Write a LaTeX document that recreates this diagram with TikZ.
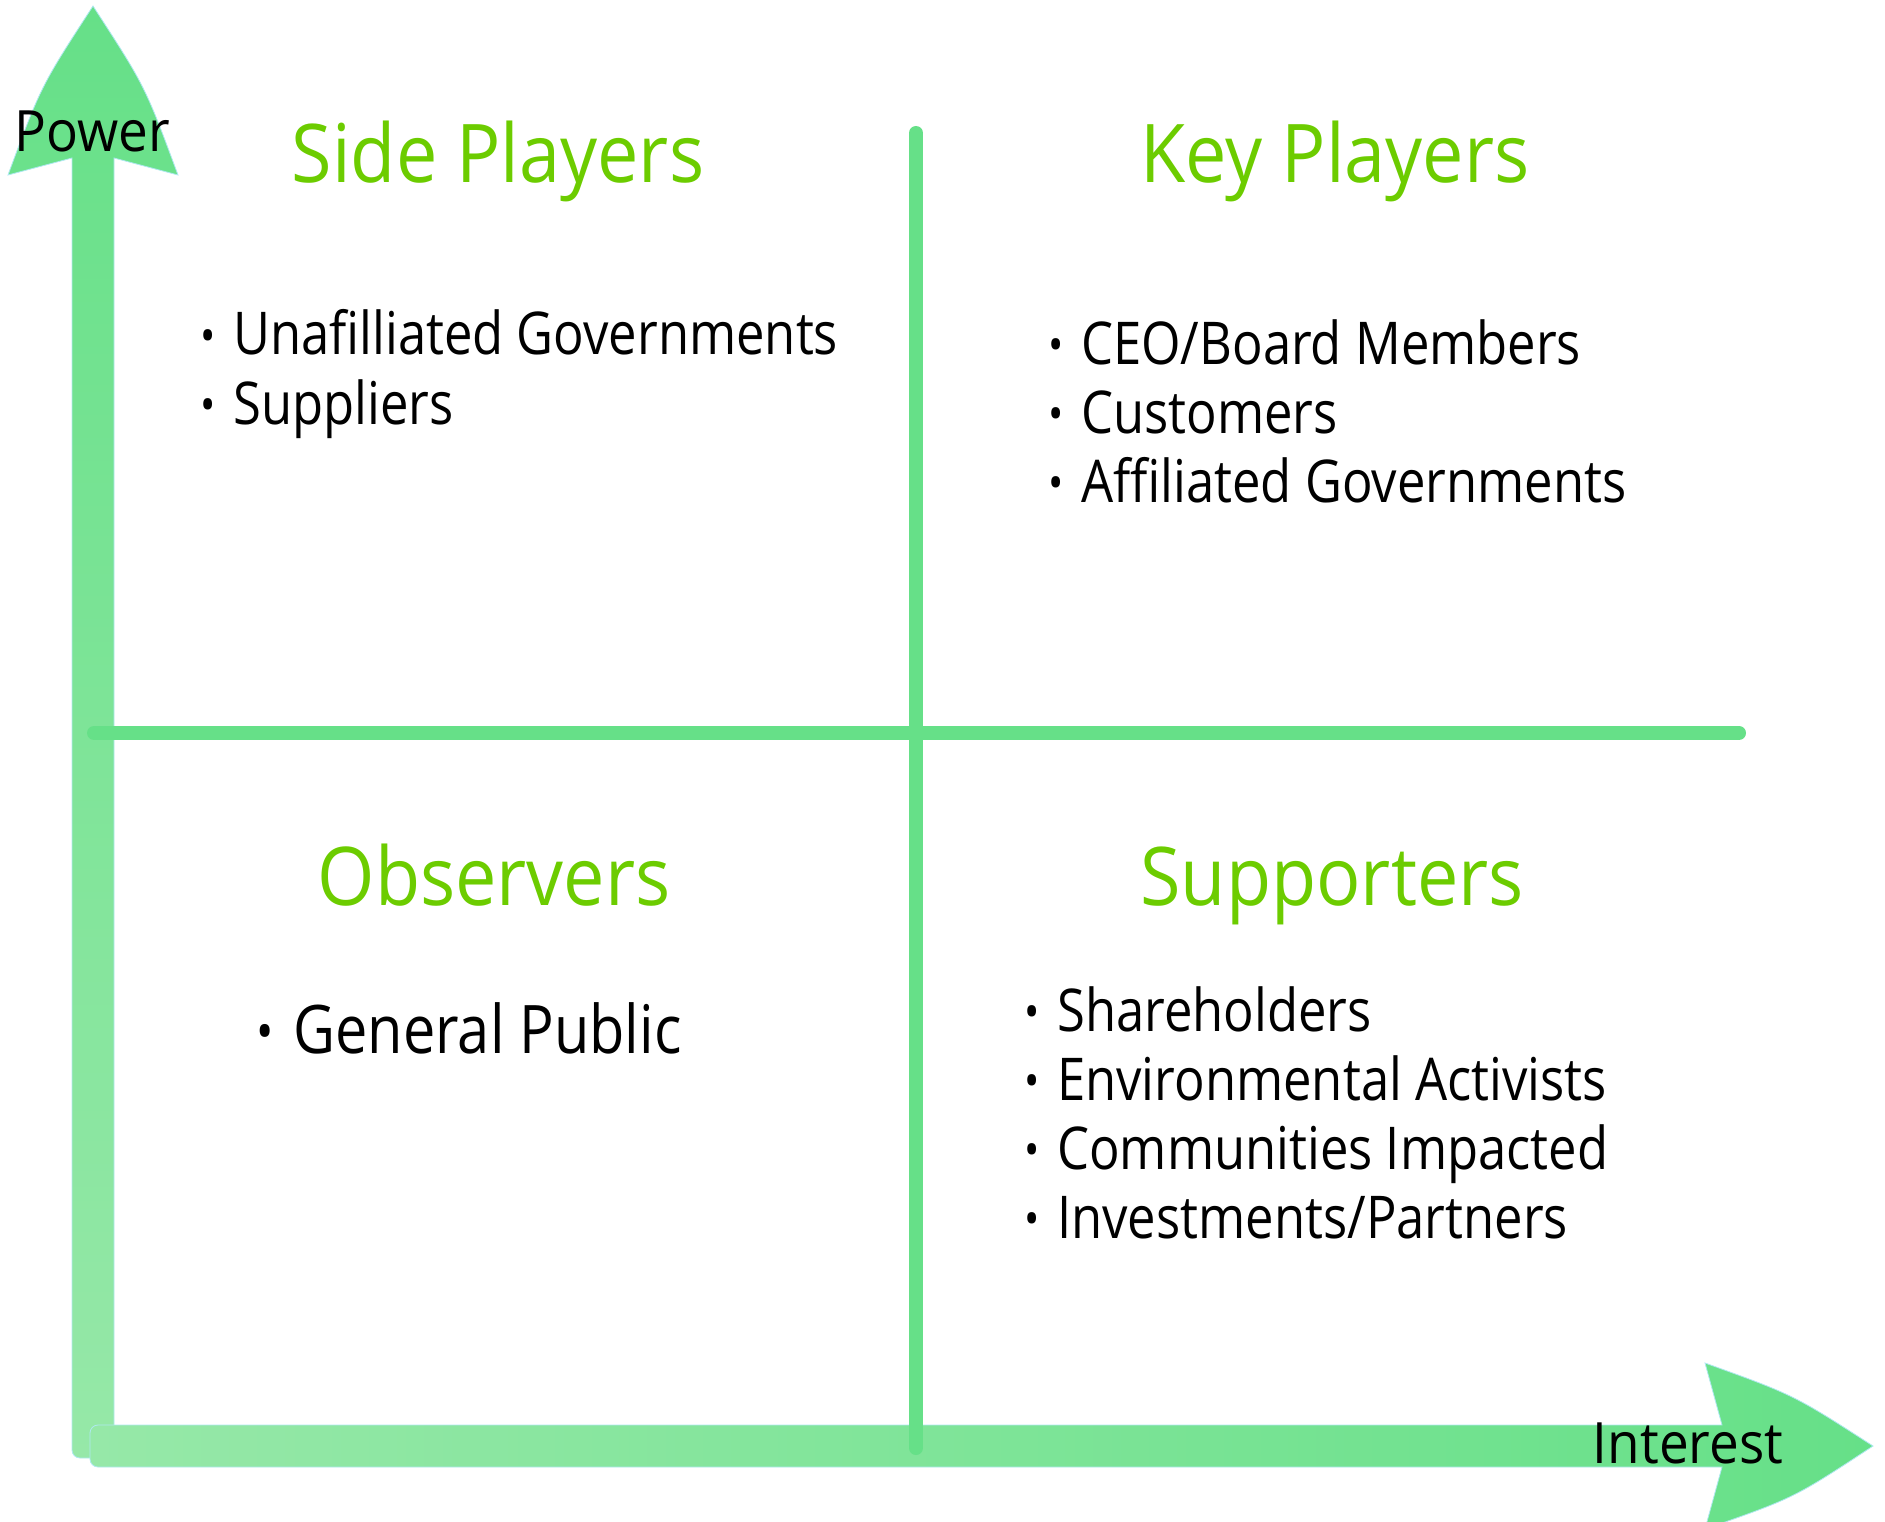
\documentclass[tikz,border=0pt]{standalone}
\usepackage{fontspec}
\setmainfont{Open Sans}
\newfontfamily\itemfont[FakeStretch=0.86]{Open Sans}
\newfontfamily\headfont[FakeStretch=0.91]{Open Sans}
\newfontfamily\axisfont[FakeStretch=0.93]{Open Sans}
\definecolor{linegreen}{RGB}{102,224,136}
\definecolor{palegreen}{RGB}{150,232,168}
\definecolor{titlegreen}{RGB}{108,204,0}
\definecolor{edgeblue}{RGB}{175,232,240}
\newcommand{\dotitem}{\raisebox{0.04em}{\scalebox{0.8}{\textbullet}}\hspace{0.3em}}
\tikzset{
  divider/.style={line width=14pt, line cap=round, draw=linegreen},
  axisarrow/.style={draw=edgeblue, line width=0.8pt},
  title/.style={inner sep=0pt, anchor=base, text=titlegreen, font=\headfont\fontsize{81}{90}\selectfont},
  item/.style={inner sep=0pt, anchor=base west, font=\itemfont\fontsize{59}{69}\selectfont},
  axislabel/.style={inner sep=0pt, anchor=base, font=\axisfont\fontsize{57}{64}\selectfont}
}
\begin{document}
\begin{tikzpicture}[x=1pt, y=-1pt]
  \useasboundingbox (0,0) rectangle (1885,1522);
  \clip (0,0) rectangle (1885,1522);

  % Axes
  \path[axisarrow, top color=linegreen, bottom color=palegreen]
    (72,700) [rounded corners=8pt] -- (72,1458) -- (114,1458) [sharp corners] -- (114,158)
    -- (178,175) .. controls (145,86) .. (93,6) .. controls (41,86) .. (8,175) -- (72,158) -- cycle;
  \path[axisarrow, left color=palegreen, right color=linegreen]
    (900,1467) [rounded corners=8pt] -- (90,1467) -- (90,1425) [sharp corners] -- (1722,1425)
    -- (1705,1363) .. controls (1794,1395) .. (1873,1446) .. controls (1794,1498) .. (1705,1529) -- (1722,1467) -- cycle;

  % Quadrants
  \coordinate (v0) at (916,133);
  \coordinate (v1) at (916,1448);
  \coordinate (h0) at (94,733);
  \coordinate (h1) at (1739,733);
  \draw[divider] (v0) -- (v1);
  \draw[divider] (h0) -- (h1);

  \node[axislabel] (power) at (92,152) {Power};
  \node[axislabel] (interest) at (1688,1463) {Interest};

  \node[title] (tSide) at (498,183) {Side Players};
  \node[title] (tKey) at (1335,183) {Key Players};
  \node[title] (tObs) at (494,905) {Observers};
  \node[title] (tSup) at (1332,905) {Supporters};

  \node[item] (s1) at (200,355) {\dotitem Unafilliated Governments};
  \node[item] (s2) at (200,424) {\dotitem Suppliers};

  \node[item] (k1) at (1048,364) {\dotitem CEO/Board Members};
  \node[item] (k2) at (1048,433) {\dotitem Customers};
  \node[item] (k3) at (1048,502) {\dotitem Affiliated Governments};

  \node[item, font=\itemfont\fontsize{67}{78}\selectfont] (o1) at (256,1053) {\dotitem General Public};

  \node[item] (p1) at (1024,1031) {\dotitem Shareholders};
  \node[item] (p2) at (1024,1100) {\dotitem Environmental Activists};
  \node[item] (p3) at (1024,1169) {\dotitem Communities Impacted};
  \node[item] (p4) at (1024,1238) {\dotitem Investments/Partners};
\end{tikzpicture}
\end{document}
